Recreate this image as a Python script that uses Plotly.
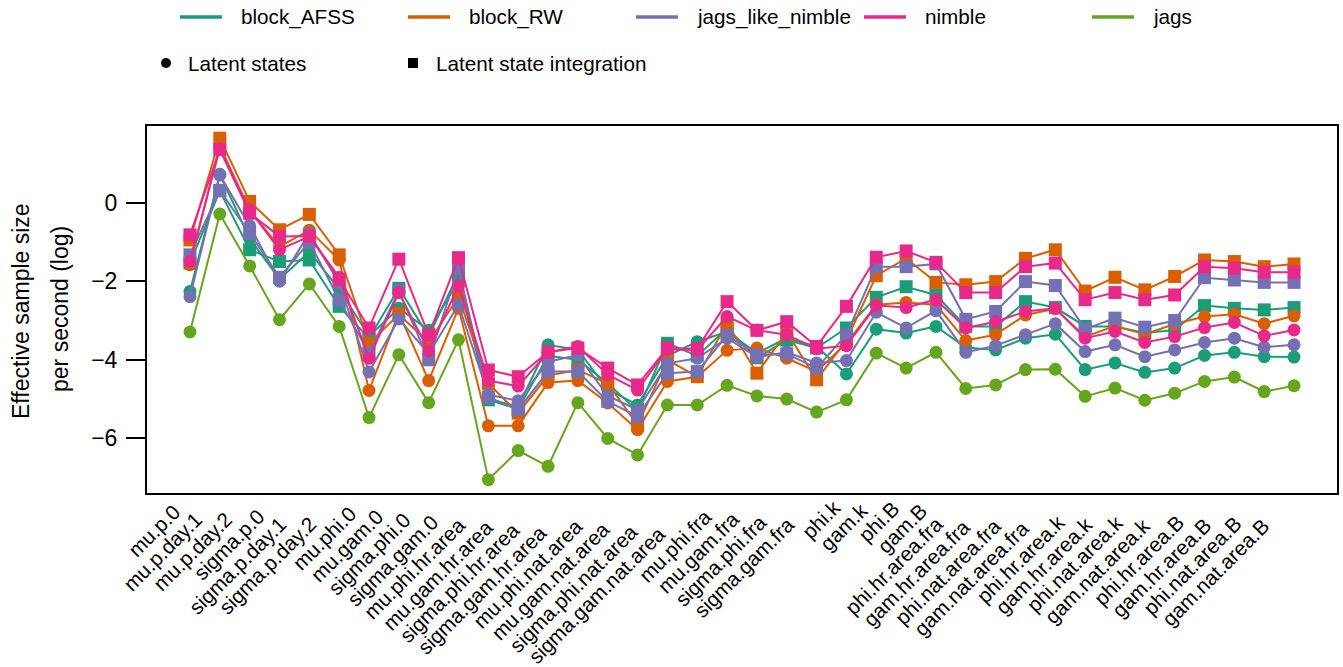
import plotly.graph_objects as go

# Parameter names (x axis)
params = [
    "mu.p.0", "mu.p.day.1", "mu.p.day.2", "sigma.p.0", "sigma.p.day.1", "sigma.p.day.2",
    "mu.phi.0", "mu.gam.0", "sigma.phi.0", "sigma.gam.0",
    "mu.phi.hr.area", "mu.gam.hr.area", "sigma.phi.hr.area", "sigma.gam.hr.area",
    "mu.phi.nat.area", "mu.gam.nat.area", "sigma.phi.nat.area", "sigma.gam.nat.area",
    "mu.phi.fra", "mu.gam.fra", "sigma.phi.fra", "sigma.gam.fra",
    "phi.k", "gam.k", "phi.B", "gam.B",
    "phi.hr.area.fra", "gam.hr.area.fra", "phi.nat.area.fra", "gam.nat.area.fra",
    "phi.hr.area.k", "gam.hr.area.k", "phi.nat.area.k", "gam.nat.area.k",
    "phi.hr.area.B", "gam.hr.area.B", "phi.nat.area.B", "gam.nat.area.B",
]

# log effective sample size per second, latent states (circles)
afss_latent = [-2.26, 0.72, -0.91, -1.95, -1.25, -2.20, -3.40, -2.69, -3.25, -2.00,
               -5.00, -5.19, -3.62, -3.75, -4.75, -5.15, -3.90, -3.54, -3.28, -3.83,
               -3.45, -3.66, -4.36, -3.22, -3.32, -3.15, -3.69, -3.75, -3.45, -3.35,
               -4.25, -4.08, -4.32, -4.21, -3.89, -3.81, -3.92, -3.93]
rw_latent = [-1.58, 1.45, -0.20, -1.12, -0.70, -1.46, -4.78, -2.81, -4.53, -2.69,
             -5.68, -5.68, -4.58, -4.53, -5.10, -5.78, -4.55, -4.43, -3.76, -3.70,
             -3.96, -4.30, -3.58, -2.60, -2.54, -2.60, -3.51, -3.36, -2.86, -2.70,
             -3.41, -3.14, -3.35, -3.09, -2.90, -2.84, -3.08, -2.88]
jln_latent = [-2.39, 0.70, -0.59, -2.00, -0.78, -2.05, -4.31, -2.96, -3.85, -2.60,
              -4.89, -5.04, -4.05, -3.88, -4.92, -5.27, -4.09, -3.96, -3.45, -3.93,
              -3.81, -4.08, -4.02, -2.79, -3.19, -2.75, -3.81, -3.64, -3.36, -3.08,
              -3.79, -3.62, -3.92, -3.75, -3.56, -3.45, -3.68, -3.62]
nimble_latent = [-1.50, 1.38, -0.19, -1.20, -0.86, -1.90, -3.96, -2.29, -3.77, -2.11,
                 -4.53, -4.67, -3.81, -3.66, -4.38, -4.77, -3.73, -3.75, -2.90, -3.25,
                 -3.36, -3.72, -3.64, -2.62, -2.67, -2.47, -3.19, -3.03, -2.77, -2.69,
                 -3.45, -3.28, -3.56, -3.41, -3.18, -3.05, -3.39, -3.24]
jags_latent = [-3.29, -0.29, -1.61, -2.98, -2.07, -3.15, -5.47, -3.87, -5.09, -3.49,
               -7.05, -6.31, -6.71, -5.09, -6.00, -6.42, -5.15, -5.15, -4.65, -4.92,
               -5.00, -5.33, -5.02, -3.83, -4.21, -3.81, -4.73, -4.64, -4.25, -4.24,
               -4.93, -4.72, -5.03, -4.85, -4.55, -4.44, -4.81, -4.66]

# log effective sample size per second, latent state integration (squares)
afss_integ = [-1.54, 0.30, -1.20, -1.50, -1.46, -2.64, -3.45, -2.18, -3.40, -1.80,
              -5.02, -5.25, -3.90, -4.00, -4.60, -5.30, -3.58, -3.90, -3.20, -3.95,
              -3.50, -3.70, -3.19, -2.41, -2.14, -2.35, -3.15, -3.15, -2.52, -2.67,
              -3.15, -3.15, -3.32, -3.24, -2.62, -2.69, -2.73, -2.67]
rw_integ = [-0.95, 1.64, 0.03, -0.69, -0.30, -1.33, -3.58, -2.85, -3.55, -2.40,
            -4.60, -5.36, -4.40, -4.26, -4.60, -5.66, -4.00, -4.43, -3.07, -4.34,
            -3.30, -4.51, -3.50, -1.86, -1.42, -2.03, -2.09, -2.01, -1.42, -1.20,
            -2.25, -1.90, -2.22, -1.88, -1.46, -1.50, -1.63, -1.56]
jln_integ = [-1.33, 0.31, -0.78, -1.90, -1.00, -2.47, -3.83, -2.25, -4.00, -1.67,
             -4.95, -5.27, -4.30, -4.30, -5.06, -5.44, -4.34, -4.30, -3.38, -3.87,
             -3.85, -4.21, -3.36, -1.63, -1.63, -1.56, -2.97, -2.77, -2.01, -2.11,
             -3.22, -2.94, -3.17, -3.00, -1.91, -1.97, -2.03, -2.03]
nimble_integ = [-0.82, 1.35, -0.27, -0.86, -0.85, -1.95, -3.19, -1.44, -3.37, -1.40,
                -4.26, -4.43, -3.80, -3.70, -4.21, -4.64, -3.70, -3.72, -2.52, -3.25,
                -3.03, -3.66, -2.64, -1.39, -1.23, -1.52, -2.29, -2.29, -1.63, -1.54,
                -2.47, -2.29, -2.47, -2.35, -1.63, -1.67, -1.77, -1.77]

methods = ["block_AFSS", "block_RW", "jags_like_nimble", "nimble", "jags"]
colors = ["#1B9E77", "#D95F02", "#7570B3", "#E7298A", "#66A61E"]

series = [
    ("block_AFSS", afss_integ, afss_latent),
    ("block_RW", rw_integ, rw_latent),
    ("jags_like_nimble", jln_integ, jln_latent),
    ("nimble", nimble_integ, nimble_latent),
    ("jags", None, jags_latent),
]

FONT = "Liberation Sans, Arial, Helvetica, sans-serif"
W, H = 1343, 667
L, R, T, B = 147, 1337, 126, 493
LAB_SIZE = 20.7   # legend and parameter labels
AXIS_SIZE = 23    # y tick labels and y title

x = list(range(len(params)))
fig = go.Figure()
for (name, integ, latent), col in zip(series, colors):
    if integ is not None:
        fig.add_trace(go.Scatter(
            x=x, y=integ, mode="lines+markers", name=name + " (integration)",
            line=dict(color=col, width=2),
            marker=dict(symbol="square", size=13, color=col, line=dict(width=0)),
            showlegend=False,
        ))
    fig.add_trace(go.Scatter(
        x=x, y=latent, mode="lines+markers", name=name,
        line=dict(color=col, width=2),
        marker=dict(symbol="circle", size=13, color=col, line=dict(width=0)),
        showlegend=False,
    ))


def px(xp):
    return (xp - L) / (R - L)


def py(yp):
    return (B - yp) / (B - T)


# Arial / Liberation Sans advance widths (per em) for the label characters
ADV = {c: 0.556 for c in "abdeghnopqu0123456789"}
ADV.update({"c": 0.5, "k": 0.5, "s": 0.5, "v": 0.5, "y": 0.5, "z": 0.5, "x": 0.5,
            "f": 0.278, "t": 0.278, ".": 0.278, "i": 0.222, "l": 0.222, "j": 0.222,
            "m": 0.833, "r": 0.333, "w": 0.722, "B": 0.667})


def text_len(s, size):
    return sum(ADV.get(ch, 0.556) for ch in s) * size


shapes = []
annotations = []

# rotated parameter labels below the axis
for i, lab in enumerate(params):
    ln = text_len(lab, LAB_SIZE)
    annotations.append(dict(
        text=lab, x=i, xref="x", y=0, yref="paper",
        xanchor="center", yanchor="middle", textangle=-45,
        xshift=-1.7 - 0.544 * ln, yshift=-(2.7 + 0.544 * ln),
        showarrow=False, font=dict(size=LAB_SIZE, color="black", family=FONT),
    ))

# method legend (row 1)
legend_x = [180, 408, 636, 864, 1092]
for lx, name, col in zip(legend_x, methods, colors):
    shapes.append(dict(type="line", xref="paper", yref="paper",
                       x0=px(lx), x1=px(lx + 42), y0=py(17), y1=py(17),
                       line=dict(color=col, width=3.5)))
    annotations.append(dict(text=name, xref="paper", yref="paper",
                            x=px(lx + 59), y=py(17), xanchor="left", yanchor="middle",
                            showarrow=False, font=dict(size=LAB_SIZE, color="black", family=FONT)))

# marker-type legend (row 2)
shapes.append(dict(type="circle", xref="paper", yref="paper",
                   x0=px(161), x1=px(171), y0=py(58), y1=py(68),
                   fillcolor="black", line=dict(width=0)))
annotations.append(dict(text="Latent states", xref="paper", yref="paper",
                        x=px(186), y=py(63), xanchor="left", yanchor="middle",
                        showarrow=False, font=dict(size=LAB_SIZE, color="black", family=FONT)))
shapes.append(dict(type="rect", xref="paper", yref="paper",
                   x0=px(408), x1=px(418), y0=py(58), y1=py(68),
                   fillcolor="black", line=dict(width=0)))
annotations.append(dict(text="Latent state integration", xref="paper", yref="paper",
                        x=px(434), y=py(63), xanchor="left", yanchor="middle",
                        showarrow=False, font=dict(size=LAB_SIZE, color="black", family=FONT)))

# y-axis title, two lines
annotations.append(dict(text="Effective sample size", xref="paper", yref="paper",
                        x=px(21), y=py(311), textangle=-90, xanchor="center", yanchor="middle",
                        showarrow=False, font=dict(size=AXIS_SIZE, color="black", family=FONT)))
annotations.append(dict(text="per second (log)", xref="paper", yref="paper",
                        x=px(60), y=py(309), textangle=-90, xanchor="center", yanchor="middle",
                        showarrow=False, font=dict(size=AXIS_SIZE, color="black", family=FONT)))

yticks = [0, -2, -4, -6]
fig.update_layout(
    width=W, height=H,
    margin=dict(l=L, r=W - R, t=T, b=H - B, pad=0),
    paper_bgcolor="white", plot_bgcolor="white",
    font=dict(family=FONT, size=LAB_SIZE, color="black"),
    shapes=shapes, annotations=annotations,
    showlegend=False,
    xaxis=dict(
        range=[-1.44, 38.44], showticklabels=False, ticks="",
        showgrid=False, zeroline=False,
        showline=True, linecolor="black", linewidth=2, mirror=True,
        automargin=False,
    ),
    yaxis=dict(
        range=[-7.39, 1.95], tickmode="array", tickvals=yticks,
        ticks="outside", ticklen=19, tickwidth=2, tickcolor="black",
        ticklabelstandoff=4,
        showgrid=False, zeroline=False,
        showline=True, linecolor="black", linewidth=2, mirror=True,
        tickfont=dict(size=AXIS_SIZE, family=FONT), automargin=False,
    ),
)

fig.write_html("out.html")
